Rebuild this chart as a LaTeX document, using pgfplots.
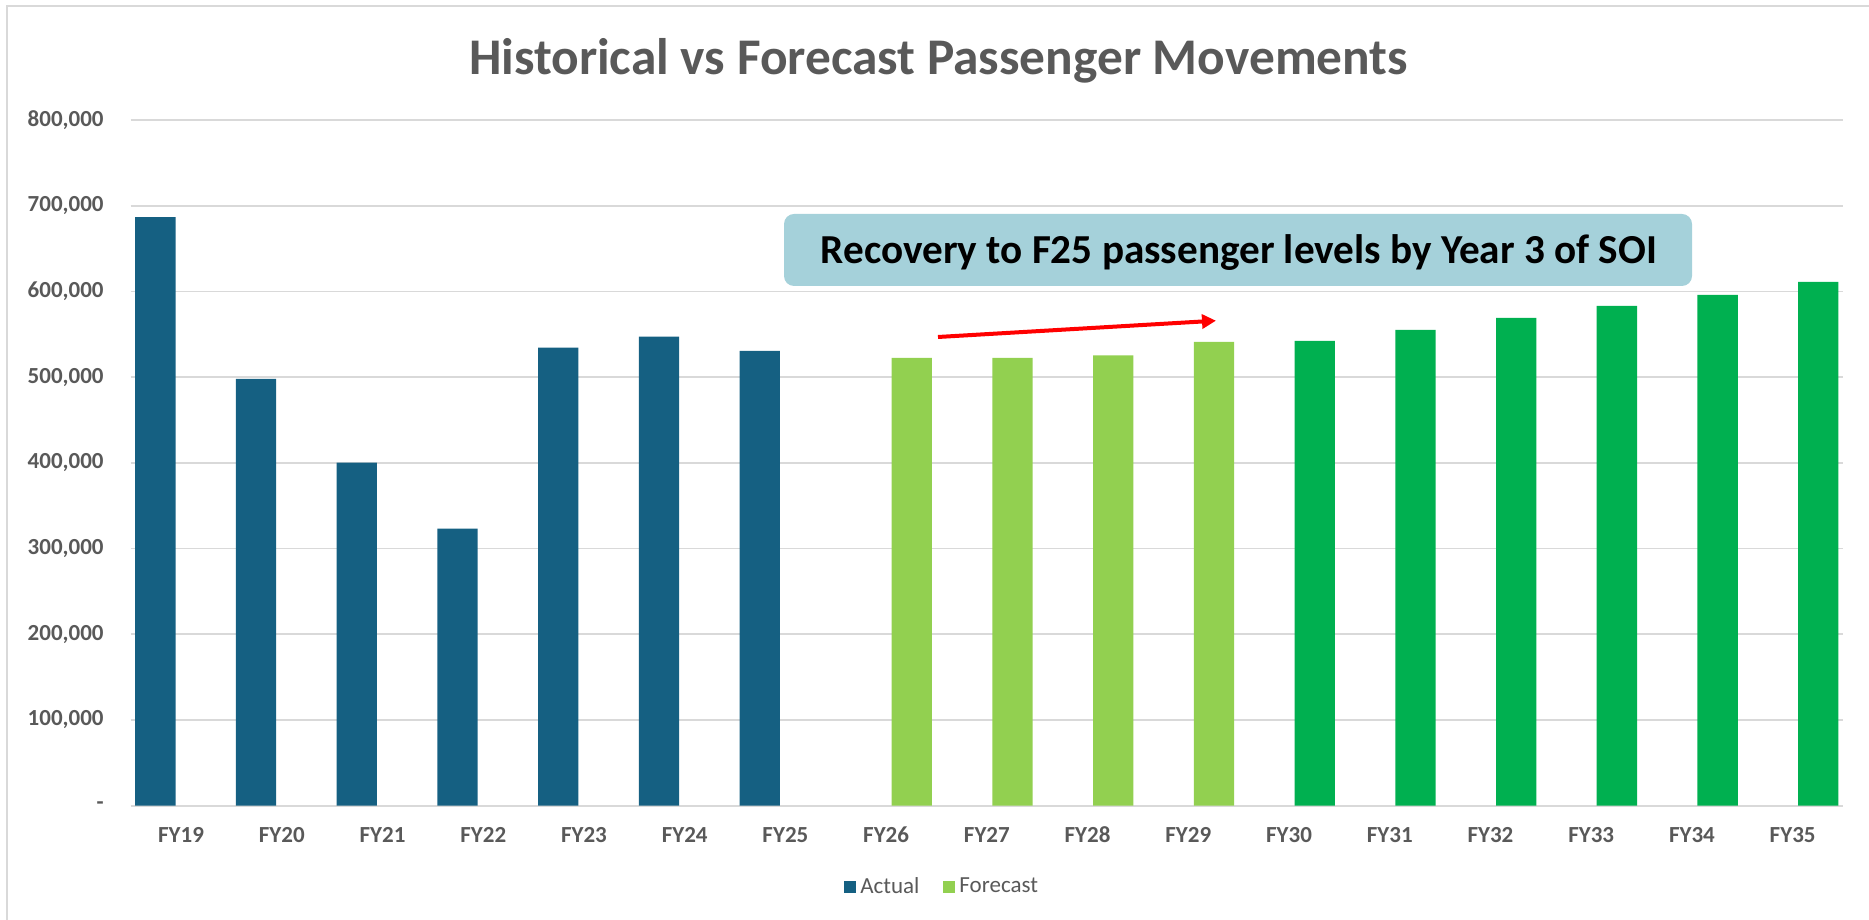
\documentclass[border=0pt]{standalone}
\usepackage{fontspec}
\setmainfont{Carlito}
\usepackage{pgfplots}
\pgfplotsset{compat=1.18}
\usetikzlibrary{arrows.meta}
\definecolor{actual}{HTML}{156082}
\definecolor{fclight}{HTML}{92D050}
\definecolor{fcdark}{HTML}{00B050}
\definecolor{txtgray}{HTML}{595959}
\definecolor{gridgray}{HTML}{D9D9D9}
\definecolor{boxfill}{HTML}{A5D1DA}
\begin{document}
\begin{tikzpicture}
\useasboundingbox (-65.35pt,-57.15pt) rectangle (869.15pt,402.85pt);
\draw[gridgray, line width=0.8pt] (-61.85pt,-60pt) -- (-61.85pt,399.85pt) -- (875pt,399.85pt);
\begin{axis}[
  at={(0pt,0pt)}, anchor=south west,
  scale only axis,
  width=856.15pt, height=342.85pt,
  xmin=-0.5, xmax=16.5,
  ymin=0, ymax=800000,
  scaled y ticks=false,
  ybar,
  bar width=0.4,
  xtick={0,...,16},
  xticklabels={FY19,FY20,FY21,FY22,FY23,FY24,FY25,FY26,FY27,FY28,FY29,FY30,FY31,FY32,FY33,FY34,FY35},
  ytick={0,100000,200000,300000,400000,500000,600000,700000,800000},
  yticklabels={{-\hspace{4pt}},{100,000},{200,000},{300,000},{400,000},{500,000},{600,000},{700,000},{800,000}},
  major tick length=0pt,
  ymajorgrids,
  grid style={gridgray, line width=0.85pt},
  axis x line*=bottom,
  axis y line*=left,
  x axis line style={gridgray, line width=0.85pt},
  y axis line style={draw=none},
  tick label style={font=\fontsize{11.5}{13}\selectfont\bfseries, text=txtgray},
  yticklabel style={anchor=east, inner sep=0pt, xshift=-13.35pt},
  xticklabel style={anchor=north, inner sep=0pt, yshift=-10.5pt},
  legend style={at={(0.4745,-0.1186)}, anchor=center, draw=none, fill=none,
    legend columns=2, font=\fontsize{11.5}{13}\selectfont, text=txtgray,
    /tikz/every even column/.append style={column sep=10pt}},
  legend image code/.code={\fill[#1] (0pt,-3pt) rectangle (6pt,3pt);},
]
\addplot[fill=actual, draw=none, bar shift=-0.255] coordinates {
 (0,686600) (1,497900) (2,400300) (3,323200) (4,534400) (5,547300) (6,530600)};
\addlegendentry{Actual}
\addplot[fill=fclight, draw=none, bar shift=0.255] coordinates {
 (7,522400) (8,522400) (9,525500) (10,541100)};
\addlegendentry{Forecast}
\addplot[fill=fcdark, draw=none, bar shift=0.255, forget plot] coordinates {
 (11,542200) (12,555100) (13,569100) (14,583100) (15,595900) (16,611100)};
\end{axis}
\node[anchor=base, text=txtgray, font=\fontsize{25.7}{30}\selectfont\bfseries, inner sep=0pt] at (403.95pt,365.7pt) {Historical vs Forecast Passenger Movements};
\fill[boxfill, rounded corners=5pt] (326.65pt,259.85pt) rectangle (780.65pt,295.85pt);
\node[anchor=base, text=black, font=\fontsize{20.6}{24}\selectfont\bfseries, inner sep=0pt] at (554.15pt,271.2pt) {Recovery to F25 passenger levels by Year 3 of SOI};
\draw[red, line width=2pt, -{Triangle[length=7pt,width=7pt]}] (403.65pt,234.35pt) -- (542.65pt,242.5pt);
\end{tikzpicture}
\end{document}
